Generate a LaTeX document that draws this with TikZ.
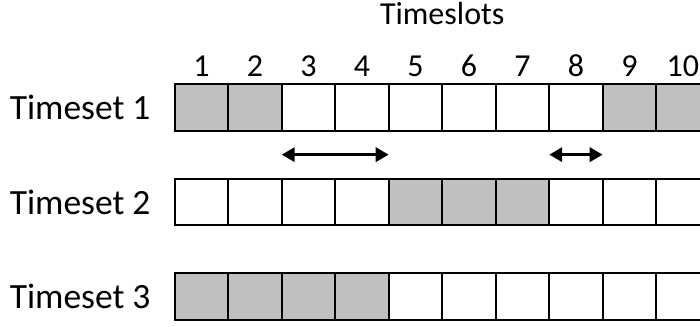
\documentclass[tikz,border=0pt]{standalone}
\usepackage{fontspec}
\setmainfont{Carlito}
\usetikzlibrary{positioning,arrows.meta,calc,backgrounds}
\definecolor{slotgray}{RGB}{192,192,192}

\begin{document}
\begin{tikzpicture}[x=1pt, y=-1pt,
    slot/.style={draw, line width=2pt, minimum width=53.5pt, minimum height=46.7pt,
        inner sep=0pt, outer sep=0pt},
    lbl/.style={font=\fontsize{32}{36}\selectfont, inner sep=0pt},
    setlbl/.style={font=\fontsize{35.5}{40}\selectfont, inner sep=0pt},
    gap/.style={{Triangle[length=13pt,width=14pt]}-{Triangle[length=13pt,width=14pt]},
        line width=3.5pt}
]
\path[use as bounding box, clip] (0,0) rectangle (700,326);

% the three timesets
\foreach \r in {1,2,3} {
    \foreach \c in {1,...,10}
        \node[slot] (c-\r-\c) at ({174.7+53.5*(\c-0.5)}, {107.3+94.7*(\r-1)}) {};
    \node[setlbl, left=24pt of c-\r-1] (ts-\r) {Timeset \r};
}

% used slots
\begin{scope}[on background layer]
    \fill[slotgray] (c-1-1.north west) rectangle (c-1-2.south east);
    \fill[slotgray] (c-1-9.north west) rectangle (c-1-10.south east);
    \fill[slotgray] (c-2-5.north west) rectangle (c-2-7.south east);
    \fill[slotgray] (c-3-1.north west) rectangle (c-3-4.south east);
\end{scope}

% slot numbers
\foreach \c in {1,...,10}
    \node[lbl, anchor=base] (n-\c) at ($(c-1-\c.north)+(0,-7)$) {\c};
\node[lbl, anchor=base] (title) at ($(c-1-5.north east)+(0,-59.5)$) {Timeslots};

% free gaps
\draw[gap] ($(c-1-3.south west)!.5!(c-2-3.north west)$)
    -- ($(c-1-4.south east)!.5!(c-2-4.north east)$);
\draw[gap] ($(c-1-8.south west)!.5!(c-2-8.north west)$)
    -- ($(c-1-8.south east)!.5!(c-2-8.north east)$);
\end{tikzpicture}
\end{document}
